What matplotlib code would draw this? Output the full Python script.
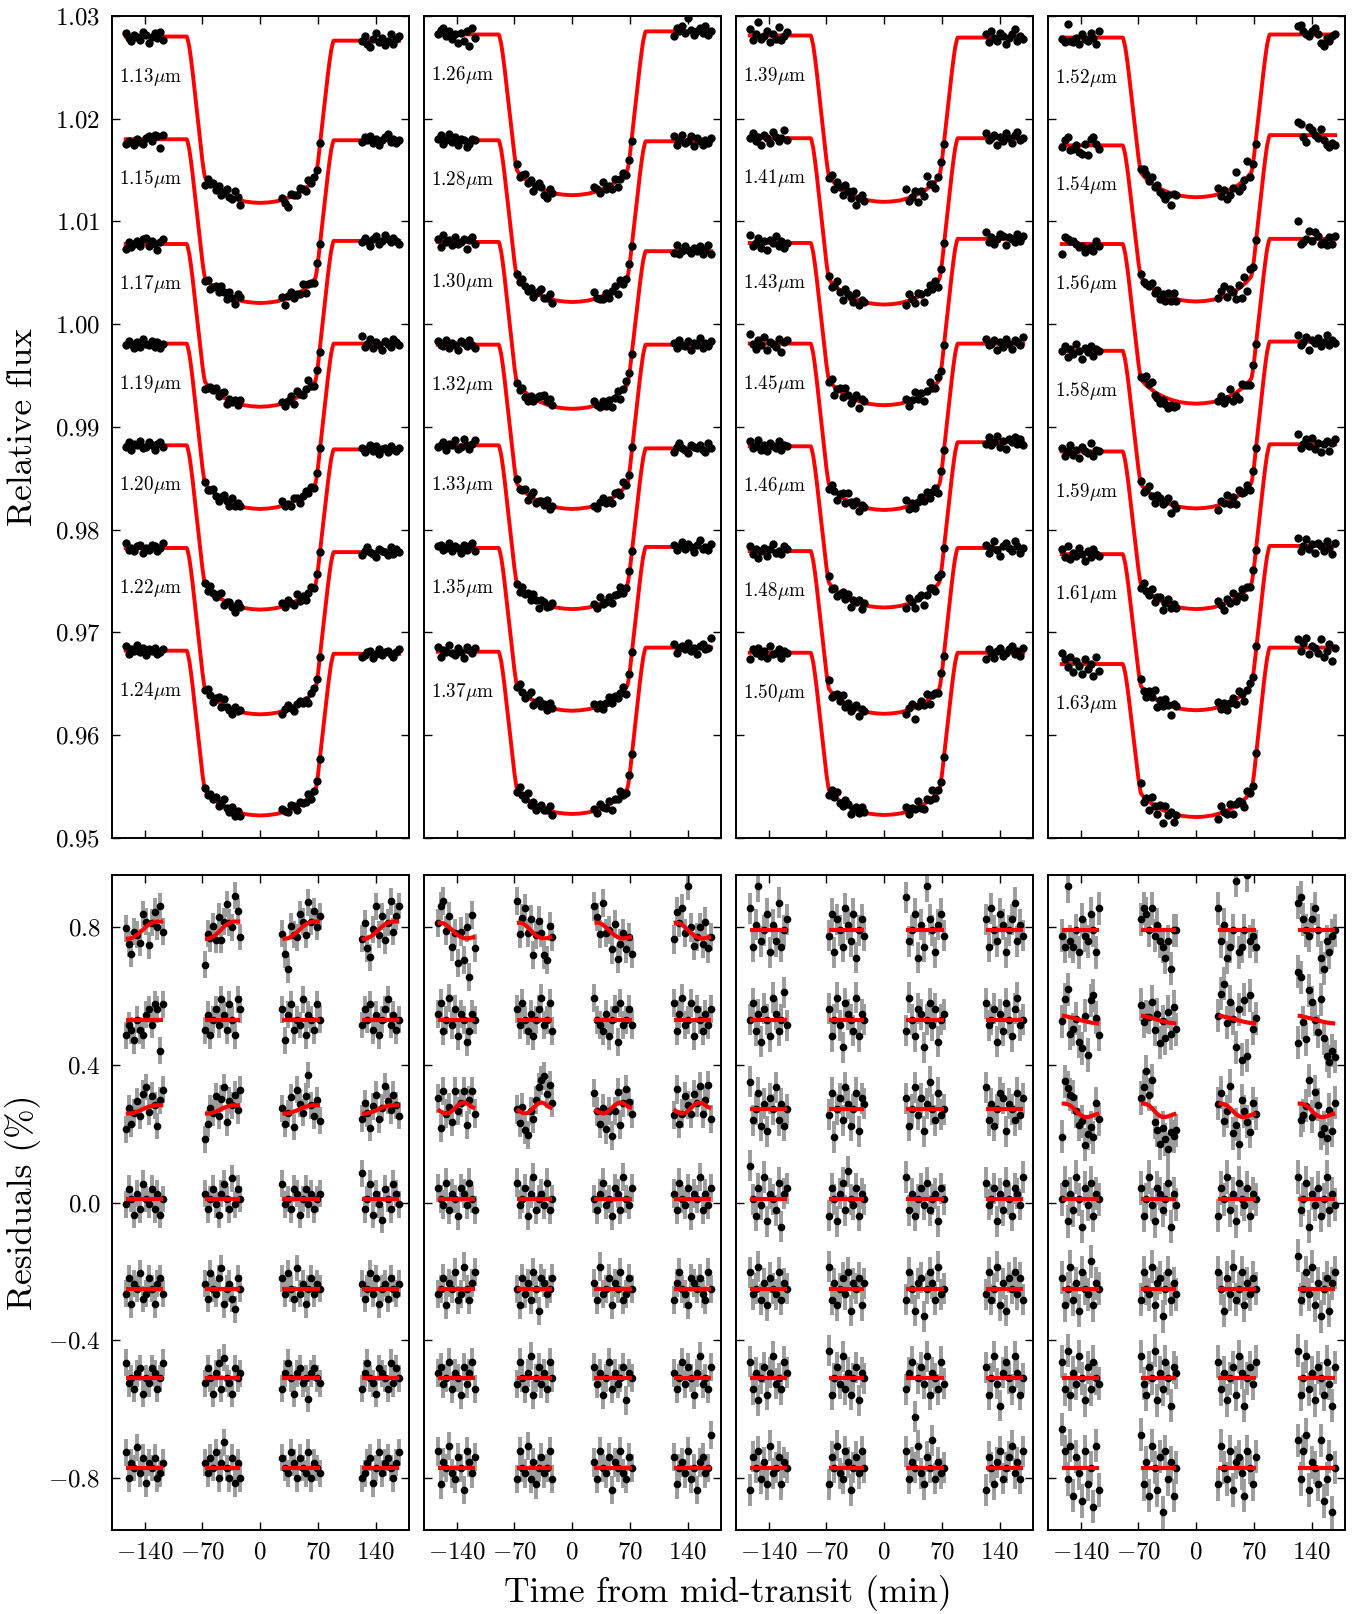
import numpy as np
import matplotlib
matplotlib.use("Agg")
import matplotlib.pyplot as plt

plt.rcParams['font.family'] = 'serif'
plt.rcParams['font.serif'] = ['cmr10', 'DejaVu Serif']
plt.rcParams['mathtext.fontset'] = 'cm'
plt.rcParams['axes.formatter.use_mathtext'] = True

# wavelength channels, one column of panels per row of this list
WAVE = [
    [1.13, 1.15, 1.17, 1.19, 1.20, 1.22, 1.24],
    [1.26, 1.28, 1.30, 1.32, 1.33, 1.35, 1.37],
    [1.39, 1.41, 1.43, 1.45, 1.46, 1.48, 1.50],
    [1.52, 1.54, 1.56, 1.58, 1.59, 1.61, 1.63],
]
# out-of-transit level before / after the transit (offset light curves)
PRE = [
    [1.0280, 1.0180, 1.0078, 0.9981, 0.9882, 0.9782, 0.9682],
    [1.0282, 1.0179, 1.0080, 0.9980, 0.9882, 0.9782, 0.9681],
    [1.0281, 1.0181, 1.0079, 0.9981, 0.9881, 0.9779, 0.9680],
    [1.0279, 1.0174, 1.0078, 0.9974, 0.9876, 0.9776, 0.9669],
]
POST = [
    [1.0276, 1.0179, 1.0081, 0.9981, 0.9878, 0.9778, 0.9679],
    [1.0285, 1.0178, 1.0071, 0.9980, 0.9879, 0.9783, 0.9685],
    [1.0279, 1.0181, 1.0083, 0.9981, 0.9885, 0.9782, 0.9680],
    [1.0282, 1.0184, 1.0083, 0.9983, 0.9883, 0.9784, 0.9685],
]
DEPTH = [
    [0.0160, 0.0159, 0.0160, 0.0161, 0.0158, 0.0160, 0.0159],
    [0.0158, 0.0157, 0.0158, 0.0160, 0.0158, 0.0159, 0.0160],
    [0.0161, 0.0162, 0.0160, 0.0162, 0.0159, 0.0160, 0.0158],
    [0.0157, 0.0157, 0.0158, 0.0158, 0.0157, 0.0156, 0.0157],
]

# transit model (fraction of central depth) at model knots
T_MODEL = [-163, -89, -88, -86, -84, -82, -80, -78, -76, -74, -72, -70, -68, -67, -65,
           -60, -50, -40, -30, -20, -10, 0, 10, 20, 30, 40, 50, 60,
           65, 67, 68, 70, 72, 74, 76, 78, 80, 82, 84, 86, 88, 89, 168.5]
S_MODEL = [0, 0, 0.015, 0.06, 0.13, 0.21, 0.30, 0.39, 0.48, 0.57, 0.66, 0.75, 0.82, 0.845, 0.86,
           0.888, 0.928, 0.956, 0.976, 0.990, 0.997, 1.0, 0.997, 0.990, 0.976, 0.956, 0.928, 0.888,
           0.86, 0.845, 0.82, 0.75, 0.66, 0.57, 0.48, 0.39, 0.30, 0.21, 0.13, 0.06, 0.015, 0, 0]

# exposure times (min from mid-transit), four HST orbits
T_OBS = [
    -163, -159.5, -156, -152.5, -149, -145.5, -142, -138.5, -135, -131.5, -128, -124.5, -121, -117.5,
    -67, -63.7, -60.4, -57.1, -53.8, -50.5, -47.2, -43.9, -40.6, -37.3, -34, -30.7, -27.4, -24.1,
    27, 30.5, 34, 37.5, 41, 44.5, 48, 51.5, 55, 58.5, 62, 65.5, 69, 72.5,
    123, 126.5, 130, 133.5, 137, 140.5, 144, 147.5, 151, 154.5, 158, 161.5, 165, 168.5,
]
S_OBS = [0] * 14 + [
    0.845, 0.867, 0.886, 0.899, 0.913, 0.926, 0.936, 0.945, 0.954, 0.962, 0.968, 0.975, 0.980, 0.984,
    0.981, 0.975, 0.968, 0.961, 0.953, 0.944, 0.934, 0.922, 0.909, 0.894, 0.877, 0.857, 0.785, 0.64,
] + [0] * 14

# residuals in units of NOISE_UNIT (%), orbits separated by |
NOISE = [
    ["2 -1 -3 1 0 -2 3 1 -4 0 2 -1 3 -2 | -5 1 0 2 -1 3 -2 1 4 0 -1 5 2 -3 | 1 -3 -6 2 0 -1 3 1 -2 4 0 2 -1 1 | 0 3 -2 -4 1 5 -1 2 -3 0 4 -2 1 3",
     "-3 -1 -2 -4 0 -2 -3 1 2 -1 3 2 -6 3 | -2 1 -3 0 2 -1 4 1 -2 3 0 -3 4 2 | 2 -4 1 3 -2 0 -1 4 -3 1 0 -2 3 0 | -1 2 0 3 -2 1 -3 0 2 4 -1 1 -2 0",
     "-3 1 -2 0 2 -1 3 4 -1 2 0 -4 1 3 | -5 -2 1 0 3 -1 2 4 -3 1 0 2 -1 3 | 1 -2 0 3 -3 4 1 -1 2 6 0 -2 1 -3 | -1 2 0 -3 1 3 -2 0 4 1 -1 2 0 -2",
     "-1 2 0 -3 1 -2 3 0 -1 2 -2 1 -3 0 | 1 -2 0 2 -1 -3 1 3 0 -2 4 -1 2 0 | 3 -1 0 -2 2 1 -3 0 2 -1 1 -2 0 1 | 5 -2 0 3 -3 1 -1 -4 2 0 -2 3 1 -1",
     "-1 2 -3 1 0 3 -2 -1 2 0 -3 1 2 -1 | 1 -2 3 0 -1 2 4 -3 0 1 -2 -4 2 0 | 2 -1 3 0 -2 4 -1 1 -3 0 2 -1 1 0 | 1 -2 0 3 -1 2 -3 0 1 -2 2 0 -1 1",
     "3 -1 0 -2 1 2 -3 0 -1 2 1 -2 0 3 | -1 2 0 -3 1 3 -2 4 0 -1 -3 2 0 1 | -2 1 3 0 -3 1 2 -1 0 -4 1 2 0 -1 | -2 1 3 0 -1 -3 2 1 0 -2 3 -1 2 0",
     "3 -2 1 0 4 -1 2 -3 1 0 2 -2 -1 1 | 1 -1 2 0 3 -2 1 5 0 -2 2 -3 1 -2 | 2 0 -1 3 1 -2 2 0 -1 3 -2 1 0 -1 | -2 -1 1 2 -3 0 3 -1 1 2 0 -2 1 3"],
    ["0 3 4 -1 2 -3 0 -5 1 -4 2 -7 4 -2 | 4 -2 1 3 -1 2 -4 0 3 1 -3 -4 2 0 | 3 1 -2 4 -1 0 -3 2 -4 -1 1 -2 0 -3 | -3 2 0 3 -1 8 1 -2 0 2 -1 3 -2 0",
     "1 3 -2 0 4 -1 2 -3 1 0 -4 -2 1 0 | 2 -1 3 0 -2 1 -3 0 2 4 -1 0 3 -2 | 4 0 -1 -2 1 -3 0 2 -4 3 -1 0 2 -1 | 3 -2 1 4 -1 0 3 -3 2 0 -2 1 -1 2",
     "2 -3 4 0 1 -2 3 -1 0 2 -4 1 3 -1 | 0 -2 1 -3 -4 0 -2 1 3 4 5 2 4 1 | 3 0 -2 1 -3 0 -5 -1 2 -4 0 3 1 -1 | -1 4 -2 0 3 1 -1 2 0 3 -2 1 4 -2",
     "2 0 -1 3 -2 1 0 -3 2 1 -1 3 0 -2 | 3 -1 0 2 -3 1 4 -2 0 1 -1 3 -2 0 | 0 -2 1 3 -1 0 -3 2 1 -2 4 0 -1 2 | 1 -2 3 0 -1 2 -3 1 0 4 -2 1 -1 2",
     "-1 0 2 -3 1 0 3 -2 -1 4 0 -2 1 3 | 0 -3 2 -1 1 -2 3 0 -4 2 1 -1 0 2 | 1 -2 4 -1 0 2 -3 1 0 3 -2 -1 2 0 | -2 1 3 0 -1 -3 2 1 0 2 -1 -2 3 0",
     "1 2 -1 0 3 -2 1 0 -3 2 -1 1 3 -2 | -1 3 0 -2 1 4 -3 0 2 -1 1 -2 3 0 | 2 -1 1 -3 0 3 -2 1 -1 0 2 -4 1 0 | 1 -2 0 3 -1 2 0 -3 1 4 -1 0 -2 2",
     "3 -3 1 0 4 -1 -2 2 0 -4 3 1 -1 2 | -2 3 0 -1 4 -2 1 -3 0 2 -1 0 3 -2 | 1 -2 3 0 -1 2 -4 1 0 3 -1 -2 2 0 | 2 -3 0 1 -1 3 -2 0 -4 1 2 -1 0 6"],
    ["4 -3 1 8 -2 0 3 -4 1 -2 5 -3 0 2 | -1 3 -4 2 0 -3 4 1 -2 3 -5 0 2 -1 | 6 -2 0 3 -5 1 -3 8 2 0 -4 1 3 -1 | 2 -3 4 0 -2 3 1 -4 0 2 5 -2 1 -1",
     "0 3 -2 1 -4 2 0 -3 4 1 -2 0 5 -1 | 2 -3 0 4 -1 -5 3 1 0 -2 4 -3 1 0 | -2 4 0 -3 2 1 -5 0 3 -1 2 -4 0 1 | 3 -1 0 2 -4 1 -2 3 0 -3 2 4 -1 0",
     "5 -2 0 3 -3 1 -4 2 0 4 -2 1 -3 0 | -1 3 -5 0 2 -2 4 1 -3 0 3 -4 2 1 | 2 -3 0 4 -1 2 -4 1 5 0 -2 3 -1 0 | 4 -2 1 -3 0 3 2 -4 1 0 -2 3 -1 2",
     "6 0 -3 2 -1 4 -4 1 0 -2 3 -5 1 2 | -3 2 0 -4 1 3 -2 5 0 -1 2 -3 1 0 | 4 -2 1 -3 0 2 -1 3 -2 0 1 -4 2 0 | 3 -1 0 2 -4 1 -2 3 0 -3 2 1 -1 4",
     "3 -1 0 4 -2 1 -3 2 0 -1 3 -2 1 0 | 4 -2 1 -3 0 2 -1 3 -4 1 0 2 -3 1 | -2 3 0 -4 1 2 -5 0 3 1 -2 4 -1 0 | -1 3 -2 0 4 -3 1 -4 2 0 3 -1 2 -2",
     "3 -2 1 -4 0 2 -3 1 4 -1 0 -2 3 1 | 5 -3 0 2 -1 4 -2 1 -3 0 2 -4 1 0 | -2 1 3 -7 0 2 -1 4 -3 1 0 -2 3 -1 | 2 -3 0 4 -1 -5 1 3 0 -2 4 1 -3 0",
     "-4 2 0 3 -2 1 -3 4 -1 0 2 -3 1 0 | -3 2 0 4 -1 -2 3 1 -4 0 2 -1 3 0 | 3 -2 1 0 4 -1 -3 2 0 5 -2 1 -1 0 | -4 2 0 -3 1 3 -2 0 2 4 -1 1 -2 3"],
    ["-1 -3 8 -2 -3 0 -4 2 -1 -2 3 0 -4 4 | 2 4 3 0 4 -1 1 -2 -3 -5 -2 -7 0 0 | 4 -2 1 -5 -3 0 9 -4 -3 0 10 -2 -1 -3 | 5 6 2 0 -1 2 4 0 -5 -7 -2 -4 -1 0",
     "-1 3 5 -3 -2 0 -4 -5 1 -6 4 5 1 -2 | 2 -1 0 0 3 -2 1 -4 0 -3 2 -2 3 -1 | 0 4 6 -1 3 0 -5 2 -7 4 -6 5 -1 1 | 8 7 -1 -4 5 3 0 -2 4 -3 -6 -7 -5 -6",
     "-6 4 3 2 2 0 -2 -1 -5 -3 -2 -4 2 -1 | 1 3 6 2 5 -2 -3 -5 -2 -4 -6 -3 -4 -3 | 0 2 -3 -1 4 -4 -2 -5 3 1 -1 -3 2 0 | 11 -3 -2 0 5 -1 4 2 -3 -2 -4 1 -3 2",
     "0 3 -4 1 -2 4 0 -5 2 -1 3 -3 1 0 | 2 -3 0 4 -1 -4 2 1 -2 0 3 -5 1 -1 | -3 2 0 4 -2 1 -4 3 0 -1 2 -3 1 0 | 4 -2 0 3 -5 1 -1 2 -3 0 4 -2 1 -1",
     "2 -3 0 4 -2 1 -4 3 0 -1 5 -3 1 0 | -2 3 0 -1 4 -3 1 2 -5 0 3 -2 1 -1 | 3 0 -4 2 -1 4 -2 0 3 -3 1 -1 2 0 | 6 -2 0 3 -1 4 -3 1 -5 0 2 -4 1 3",
     "3 -2 5 -3 1 -1 4 0 -4 2 -2 3 0 -1 | 4 -1 -3 2 0 5 -4 1 -2 3 0 -5 2 1 | 3 -2 1 -4 0 2 -3 4 1 -5 0 2 -1 3 | 5 -3 0 4 -2 1 -4 2 0 -3 3 -1 -5 2",
     "7 3 -2 4 -5 2 -1 -6 3 -3 0 -7 4 -4 | 6 -3 1 -5 4 0 -4 2 -8 3 -2 1 -5 0 | -3 4 0 -2 3 -4 1 2 -1 -5 3 0 -3 2 | 5 -2 3 6 -4 1 0 -3 5 -6 -2 2 -8 0"],
]
NOISE_UNIT = [0.015, 0.016, 0.016, 0.016]
ERR = [0.039, 0.041, 0.045, 0.048]

# orbit systematics models (%), one value per exposure within an orbit
SYS = {
    'flat': [0.0] * 14,
    'rise': [-0.025, -0.025, -0.023, -0.019, -0.013, -0.006, 0.002, 0.010, 0.016, 0.021, 0.024, 0.025, 0.025, 0.025],
    'rise_s': [-0.012, -0.012, -0.011, -0.009, -0.006, -0.003, 0.001, 0.005, 0.008, 0.010, 0.012, 0.012, 0.012, 0.012],
    'fall': [0.021, 0.022, 0.020, 0.015, 0.008, 0.0, -0.008, -0.015, -0.020, -0.023, -0.024, -0.023, -0.021, -0.020],
    'wave': [0.0, -0.006, -0.010, -0.012, -0.010, -0.004, 0.004, 0.012, 0.018, 0.020, 0.018, 0.012, 0.006, 0.004],
    'tilt': [0.012, 0.011, 0.009, 0.007, 0.005, 0.003, 0.0, -0.002, -0.004, -0.006, -0.008, -0.009, -0.010, -0.011],
    'dip': [0.017, 0.017, 0.015, 0.011, 0.004, -0.005, -0.013, -0.019, -0.022, -0.022, -0.020, -0.017, -0.014, -0.012],
}
SYS_KIND = [
    ['rise', 'flat', 'rise_s', 'flat', 'flat', 'flat', 'flat'],
    ['fall', 'flat', 'wave', 'flat', 'flat', 'flat', 'flat'],
    ['flat', 'flat', 'flat', 'flat', 'flat', 'flat', 'flat'],
    ['flat', 'tilt', 'dip', 'flat', 'flat', 'flat', 'flat'],
]
RES_OFFSET = [0.79, 0.53, 0.27, 0.01, -0.25, -0.51, -0.77]

FLUX_TICKS = [0.95, 0.96, 0.97, 0.98, 0.99, 1.00, 1.01, 1.02, 1.03]
RES_TICKS = [-0.8, -0.4, 0.0, 0.4, 0.8]
TIME_TICKS = [-140, -70, 0, 70, 140]

# layout in pixels
FW, FH = 1356, 1614
AX_LEFT, AX_W, AX_GAP = 111.7, 297, 15
TOP_Y0, TOP_Y1 = 16, 837.6
BOT_Y0, BOT_Y1 = 875, 1530

fig = plt.figure(figsize=(FW / 100, FH / 100), dpi=100)

t_model = np.array(T_MODEL)
s_model = np.array(S_MODEL)
t_obs = np.array(T_OBS)
s_obs = np.array(S_OBS)
# baseline weight: 0 = pre-transit level, 1 = post-transit level
w_model = np.where(t_model < 0, 0.5 * s_model, 1 - 0.5 * s_model)
w_obs = np.where(t_obs < 0, 0.5 * s_obs, 1 - 0.5 * s_obs)


def style_axes(ax):
    ax.tick_params(direction='in', top=True, right=True, length=6, width=1,
                   labelsize=18, pad=8)
    for sp in ax.spines.values():
        sp.set_linewidth(1.4)


for p in range(4):
    x0 = (AX_LEFT + p * (AX_W + AX_GAP)) / FW
    axt = fig.add_axes([x0, 1 - TOP_Y1 / FH, AX_W / FW, (TOP_Y1 - TOP_Y0) / FH])
    axb = fig.add_axes([x0, 1 - BOT_Y1 / FH, AX_W / FW, (BOT_Y1 - BOT_Y0) / FH])

    for i in range(7):
        pre, post, depth = PRE[p][i], POST[p][i], DEPTH[p][i]
        noise = np.array(NOISE[p][i].replace('|', ' ').split(), float) * NOISE_UNIT[p]
        if len(noise) != len(t_obs):
            raise ValueError(f"noise length {len(noise)} for {WAVE[p][i]}")

        # light curve + model
        model = pre + (post - pre) * w_model - depth * s_model
        flux = pre + (post - pre) * w_obs - depth * s_obs + noise / 100
        axt.plot(t_model, model, color='red', lw=2.8, zorder=2)
        axt.plot(t_obs, flux, 'o', color='black', ms=6, mew=0, zorder=3)
        axt.text(-171, pre - 0.0039, f"{WAVE[p][i]:.2f}$\\mu$m", fontsize=13.8,
                 ha='left', va='center')

        # residuals with orbit systematics
        sys = np.tile(SYS[SYS_KIND[p][i]], 4)
        off = RES_OFFSET[i]
        res = off + sys + noise
        axb.errorbar(t_obs, res, yerr=ERR[p], fmt='none', ecolor='#9c9c9c',
                     elinewidth=2.8, capsize=0, zorder=1)
        axb.plot(t_obs, res, 'o', color='black', ms=5.5, mew=0, zorder=2)
        for o in range(4):
            sl = slice(14 * o, 14 * o + 14)
            axb.plot(t_obs[sl], off + sys[sl], color='red', lw=3, zorder=3,
                     solid_capstyle='butt')

    for ax in (axt, axb):
        ax.set_xlim(-180, 180)
        ax.set_xticks(TIME_TICKS)
        style_axes(ax)
    axt.set_ylim(0.95, 1.03)
    axt.set_yticks(FLUX_TICKS)
    axb.set_ylim(-0.95, 0.95)
    axb.set_yticks(RES_TICKS)
    axt.tick_params(labelbottom=False)
    if p > 0:
        axt.tick_params(labelleft=False)
        axb.tick_params(labelleft=False)

fig.text(23 / FW, 1 - (TOP_Y0 + TOP_Y1) / 2 / FH, 'Relative flux', rotation=90,
         fontsize=25.5, ha='center', va='center')
fig.text(23 / FW, 1 - (BOT_Y0 + BOT_Y1) / 2 / FH, 'Residuals (%)', rotation=90,
         fontsize=25.5, ha='center', va='center')
fig.text(728 / FW, 1 - 1593 / FH, 'Time from mid-transit (min)', fontsize=25.5,
         ha='center', va='center')

fig.savefig('out.png', dpi=100)
